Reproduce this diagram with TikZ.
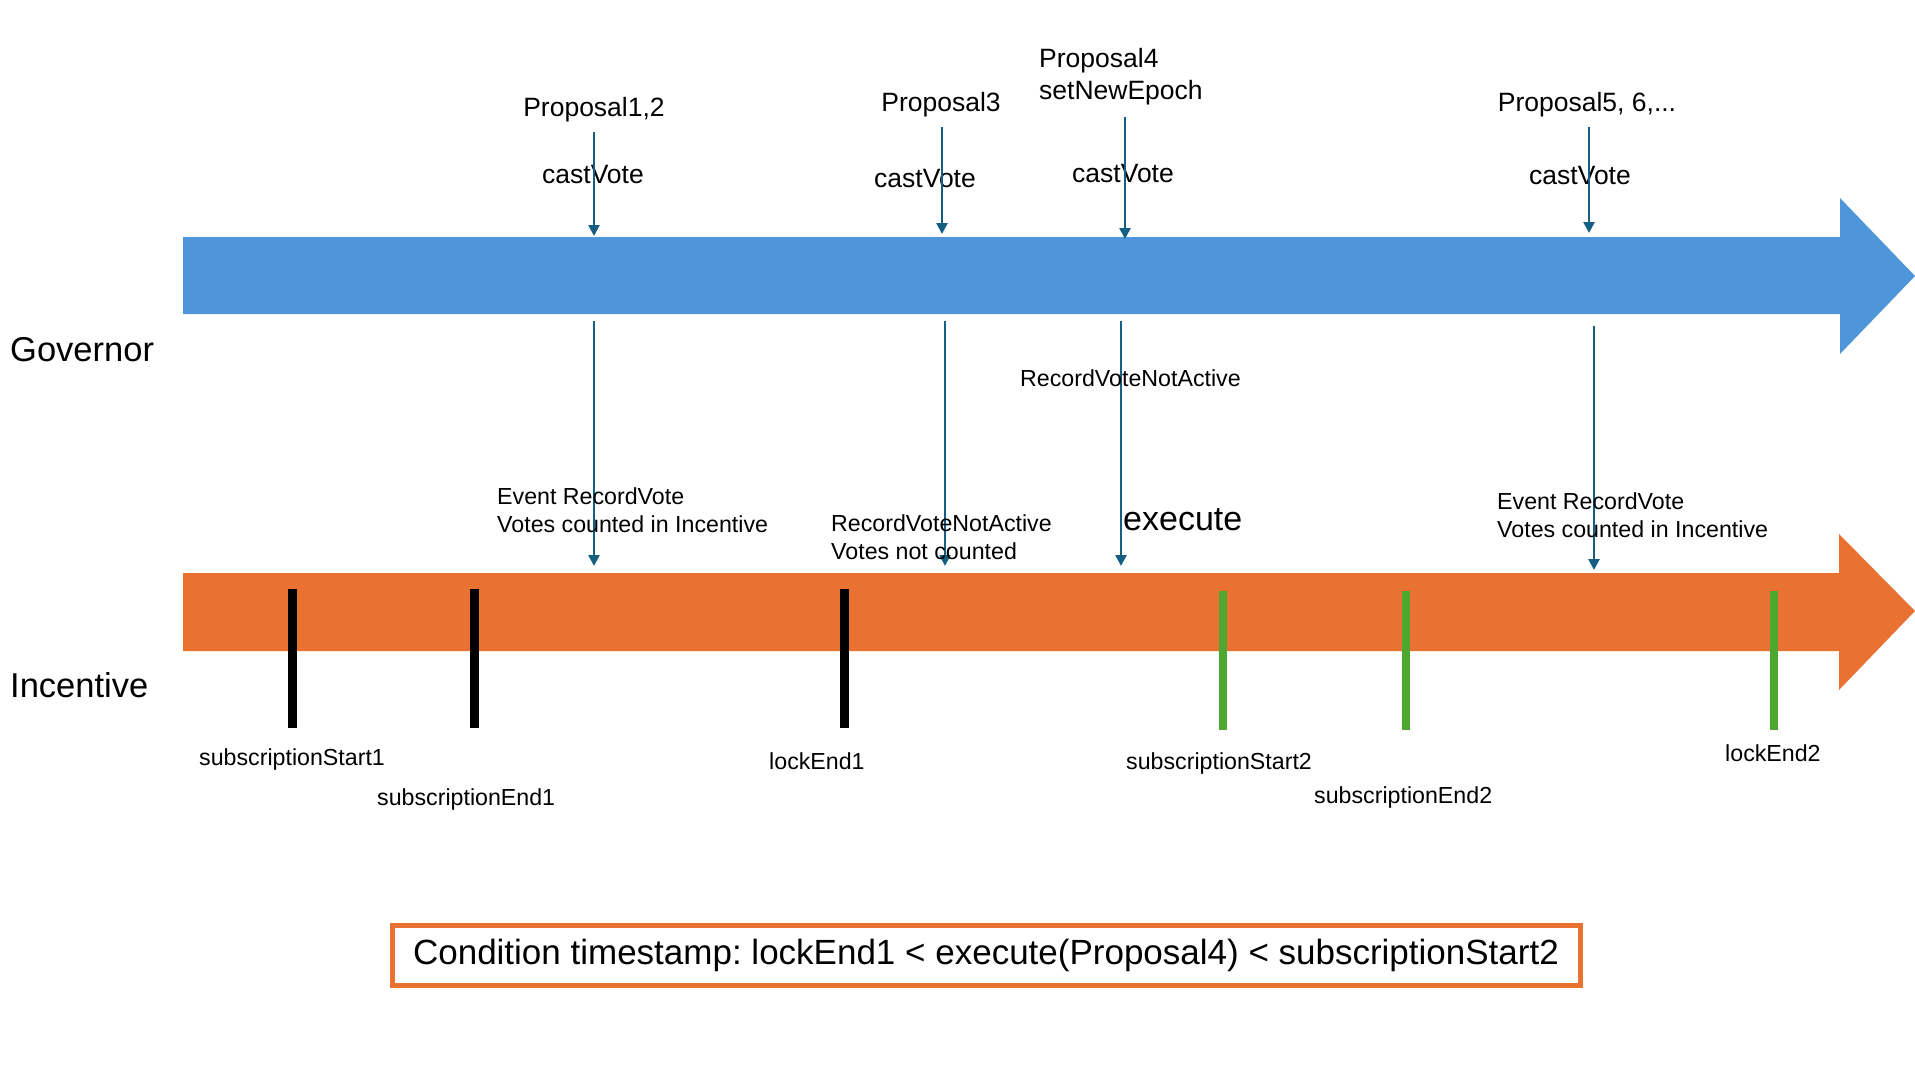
\documentclass[tikz,border=0pt]{standalone}
\usepackage{fontspec}
\setmainfont{Liberation Sans}
\usetikzlibrary{arrows.meta, positioning}
\frenchspacing

\definecolor{govblue}{HTML}{4F95D9}
\definecolor{incorange}{HTML}{E97132}
\definecolor{callblue}{HTML}{156082}
\definecolor{tickgreen}{HTML}{4EA72E}

\begin{document}
\begin{tikzpicture}[x=1pt,y=-1pt,>={Triangle[length=11pt,width=11pt]},
	every edge/.append style={line width=2.5pt,draw=callblue},
	lbl/.style={inner sep=0pt,anchor=base,font=\fontsize{26.5}{32}\selectfont},
	small/.style={inner sep=0pt,anchor=base west,font=\fontsize{23.2}{28}\selectfont},
	lane/.style={inner sep=0pt,anchor=base west,font=\fontsize{34.5}{40}\selectfont},
	tick/.style={line width=9pt},
	gtick/.style={line width=8pt,draw=tickgreen}]
	\useasboundingbox (0,0) rectangle (1915,1077);
	
	% timelines
	\fill[govblue] (183,237) -- (1840,237) -- (1840,198) -- (1915,276) -- (1840,354) -- (1840,314) -- (183,314) -- cycle;
	\fill[incorange] (183,573) -- (1839,573) -- (1839,534) -- (1915,611) -- (1839,690) -- (1839,651) -- (183,651) -- cycle;
	
	\node[lane] (gov) at (10,361) {Governor};
	\node[lane] (inc) at (10,697) {Incentive};
	
	% proposals
	\node[lbl] (p12) at (594,116) {Proposal1,2};
	\node[lbl] (p3) at (941,111) {Proposal3};
	\node[lbl,anchor=base west] (p4) at (1039,67) {Proposal4};
	\node[lbl,anchor=base west] (epoch) [below=32pt of p4.base west,anchor=base west] {setNewEpoch};
	\node[lbl] (p56) at (1587,111) {Proposal5, 6,...};
	
	\node[lbl] (cv12) at (593,183) {castVote};
	\node[lbl] (cv3) at (925,187) {castVote};
	\node[lbl] (cv4) at (1123,182) {castVote};
	\node[lbl] (cv56) at (1580,184) {castVote};
	
	\coordinate (s12) at (594,132);
	\coordinate (g12) at (594,236);
	\coordinate (s3) at (942,127);
	\coordinate (g3) at (942,234);
	\coordinate (s4) at (1125,117);
	\coordinate (g4) at (1125,239);
	\coordinate (s56) at (1589,127);
	\coordinate (g56) at (1589,233);
	
	\path (s12) edge[->] (g12);
	\path (s3) edge[->] (g3);
	\path (s4) edge[->] (g4);
	\path (s56) edge[->] (g56);
	
	% governor -> incentive
	\coordinate (d12) at (594,321);
	\coordinate (i12) at (594,566);
	\coordinate (d3) at (945,321);
	\coordinate (i3) at (945,566);
	\coordinate (d4) at (1121,321);
	\coordinate (i4) at (1121,566);
	\coordinate (d56) at (1594,326);
	\coordinate (i56) at (1594,570);
	
	\path (d12) edge[->] (i12);
	\path (d3) edge[->] (i3);
	\path (d4) edge[->] (i4);
	\path (d56) edge[->] (i56);
	
	\node[small] (na4) at (1020,386) {RecordVoteNotActive};
	\node[small] (ev12) at (497,504) {Event RecordVote};
	\node[small] (vc12) [below=28pt of ev12.base west,anchor=base west] {Votes counted in Incentive};
	\node[small] (na3) at (831,531) {RecordVoteNotActive};
	\node[small] (nc3) [below=28pt of na3.base west,anchor=base west] {Votes not counted};
	\node[lane,font=\fontsize{34}{40}\selectfont] (exec) at (1123,530) {execute};
	\node[small] (ev56) at (1497,509) {Event RecordVote};
	\node[small] (vc56) [below=28pt of ev56.base west,anchor=base west] {Votes counted in Incentive};
	
	% epoch marks
	\draw[tick] (292,589) -- (292,728);
	\draw[tick] (474,589) -- (474,728);
	\draw[tick] (844,589) -- (844,728);
	\draw[gtick] (1223,591) -- (1223,730);
	\draw[gtick] (1406,591) -- (1406,730);
	\draw[gtick] (1774,591) -- (1774,730);
	
	\node[small] (ss1) at (199,765) {subscriptionStart1};
	\node[small] (se1) at (377,805) {subscriptionEnd1};
	\node[small] (le1) at (769,769) {lockEnd1};
	\node[small] (ss2) at (1126,769) {subscriptionStart2};
	\node[small] (se2) at (1314,803) {subscriptionEnd2};
	\node[small] (le2) at (1725,761) {lockEnd2};
	
	\node[draw=incorange,line width=5pt,minimum width=1188pt,minimum height=60pt,inner sep=0pt,font=\fontsize{35}{42}\selectfont] (cond) at (986,955) {Condition timestamp: lockEnd1 < execute(Proposal4) < subscriptionStart2};
\end{tikzpicture}
\end{document}
